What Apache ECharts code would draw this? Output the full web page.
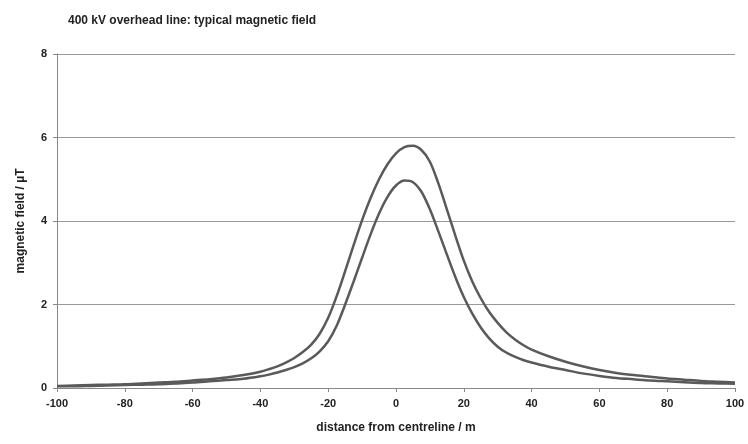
<!DOCTYPE html>
<html>
<head>
<meta charset="utf-8">
<script src="https://cdn.jsdelivr.net/npm/echarts@6/dist/echarts.min.js"></script>
<style>
  html, body { margin: 0; padding: 0; background: #fff; }
  #chart { width: 748px; height: 444px; }
</style>
</head>
<body>
<div id="chart"></div>
<script>
// distance from centreline (m)
const distance = [-100, -95, -90, -85, -80, -75, -70, -65, -60, -55, -50, -45,
  -40, -37.5, -35, -32.5, -30, -27.5, -25, -22.5, -20, -17.5, -15, -12.5, -10, -7.5, -5, -2.5,
  0, 2.5, 5, 7.5, 10, 12.5, 15, 17.5, 20, 22.5, 25, 27.5, 30, 32.5, 35, 37.5, 40,
  45, 50, 55, 60, 65, 70, 75, 80, 85, 90, 95, 100]

// magnetic field (µT), upper curve
const fieldUpper = [0.05, 0.06, 0.07, 0.08, 0.09, 0.11, 0.13, 0.15, 0.18, 0.21, 0.25, 0.31,
  0.39, 0.45, 0.52, 0.61, 0.72, 0.86, 1.04, 1.3, 1.68, 2.2, 2.8, 3.42, 4.02, 4.55, 5.0, 5.36,
  5.62, 5.77, 5.8, 5.7, 5.42, 4.9, 4.28, 3.65, 3.05, 2.55, 2.15, 1.82, 1.56, 1.34, 1.17, 1.03, 0.92,
  0.76, 0.63, 0.52, 0.43, 0.36, 0.31, 0.27, 0.23, 0.2, 0.17, 0.15, 0.13]

// magnetic field (µT), lower curve
const fieldLower = [0.04, 0.04, 0.05, 0.06, 0.07, 0.08, 0.09, 0.11, 0.13, 0.16, 0.19, 0.22,
  0.28, 0.32, 0.37, 0.43, 0.5, 0.59, 0.71, 0.88, 1.12, 1.49, 2.0, 2.55, 3.12, 3.68, 4.18, 4.58,
  4.85, 4.97, 4.93, 4.7, 4.28, 3.75, 3.2, 2.66, 2.18, 1.78, 1.45, 1.19, 0.99, 0.85, 0.75, 0.67, 0.61,
  0.51, 0.43, 0.35, 0.29, 0.24, 0.21, 0.18, 0.16, 0.14, 0.12, 0.11, 0.1]

const chart = echarts.init(document.getElementById('chart'))

const font = 'Liberation Sans, Arial, sans-serif'

const option = {
  backgroundColor: '#fff',
  animation: false,
  title: {
    text: '400 kV overhead line: typical magnetic field',
    left: 63,
    top: 10,
    textStyle: { fontFamily: font, fontSize: 12, fontWeight: 'bold', color: '#222' }
  },
  grid: { left: 57, right: 13, top: 54, bottom: 56 },
  xAxis: {
    type: 'value',
    min: -100,
    max: 100,
    interval: 20,
    name: 'distance from centreline / m',
    nameLocation: 'middle',
    nameGap: 34,
    nameTextStyle: { fontFamily: font, fontSize: 12, fontWeight: 'bold', color: '#222' },
    axisLine: { lineStyle: { color: '#888', width: 1 } },
    axisTick: { show: true, length: 4, lineStyle: { color: '#888' } },
    axisLabel: { fontFamily: font, fontSize: 11, fontWeight: 'bold', color: '#222', margin: 10 },
    splitLine: { show: false }
  },
  yAxis: {
    type: 'value',
    min: 0,
    max: 8,
    interval: 2,
    name: 'magnetic field / µT',
    nameLocation: 'middle',
    nameGap: 30,
    nameTextStyle: { fontFamily: font, fontSize: 12, fontWeight: 'bold', color: '#222' },
    axisLine: { show: true, onZero: false, lineStyle: { color: '#888', width: 1 } },
    axisTick: { show: true, length: 4, lineStyle: { color: '#888' } },
    axisLabel: { fontFamily: font, fontSize: 11, fontWeight: 'bold', color: '#222', margin: 10 },
    splitLine: { show: true, lineStyle: { color: '#999', width: 1 } }
  },
  series: [
    {
      type: 'line',
      data: distance.map((d, i) => [d, fieldUpper[i]]),
      smooth: 0.3,
      showSymbol: false,
      lineStyle: { color: '#5a5a5a', width: 2.5 }
    },
    {
      type: 'line',
      data: distance.map((d, i) => [d, fieldLower[i]]),
      smooth: 0.3,
      showSymbol: false,
      lineStyle: { color: '#5a5a5a', width: 2.5 }
    }
  ]
}

chart.setOption(option)
</script>
</body>
</html>
